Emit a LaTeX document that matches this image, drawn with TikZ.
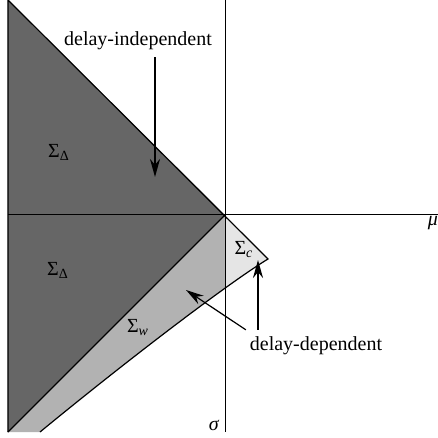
\documentclass[tikz,border=0pt]{standalone}
\usepackage{fontspec}
\setmainfont{Liberation Serif}
\usepackage{tikz}
\usetikzlibrary{arrows.meta,calc}

\begin{document}
\begin{tikzpicture}[x=0.5pt,y=0.5pt]
  \useasboundingbox (-225,-223) rectangle (213,215);
  % regions
  \fill[black!60] (-217,215) -- (0,0) -- (-217,-217) -- cycle;
  \fill[black!30] (0,0) -- (43,-44) .. controls (5,-67) and (-95,-143) .. (-185,-217)
    -- (-217,-217) -- cycle;
  \begin{scope}
    \clip (0,0) rectangle (60,-100);
    \fill[black!10] (0,0) -- (43,-44) .. controls (5,-67) and (-95,-143) .. (-185,-217)
      -- (-217,-217) -- cycle;
  \end{scope}
  \draw[line width=0.6pt] (-217,-217) -- (-217,215) -- (43,-44)
    .. controls (5,-67) and (-95,-143) .. (-185,-217);
  \draw[line width=0.6pt] (0,0) -- (-217,-217);
  % axes
  \draw[line width=0.5pt] (-217,0) -- (213,0);
  \draw[line width=0.5pt] (0,215) -- (0,-217);
  \node (mu) at (208,-8) {\textit{μ}};
  \node (sigma) at (-11,-210) {\textit{σ}};
  % region labels
  \node (sdup) at (-166,63) {Σ\textsubscript{Δ}};
  \node (sdlo) at (-167,-55) {Σ\textsubscript{Δ}};
  \node (sw) at (-87,-113) {Σ\textsubscript{\textit{w}}};
  \node (sc) at (19,-35) {Σ\textsubscript{\textit{c}}};
  % annotations
  \node (indep) at (-87,174) {delay-independent};
  \coordinate (indeptip) at (-70,38);
  \draw[-{Stealth[length=9pt,width=5pt]},line width=1pt] (indep.south -| indeptip) -- (indeptip);
  \node (dep) at (91,-131) {delay-dependent};
  \coordinate (sctip) at (33,-45);
  \coordinate (swtip) at (-39,-75);
  \draw[-{Stealth[length=9pt,width=5pt]},line width=1pt] (dep.north -| sctip) -- (sctip);
  \draw[-{Stealth[length=9pt,width=5pt]},line width=0.6pt] ($(dep.north west)+(3,0)$) -- (swtip);
\end{tikzpicture}
\end{document}
